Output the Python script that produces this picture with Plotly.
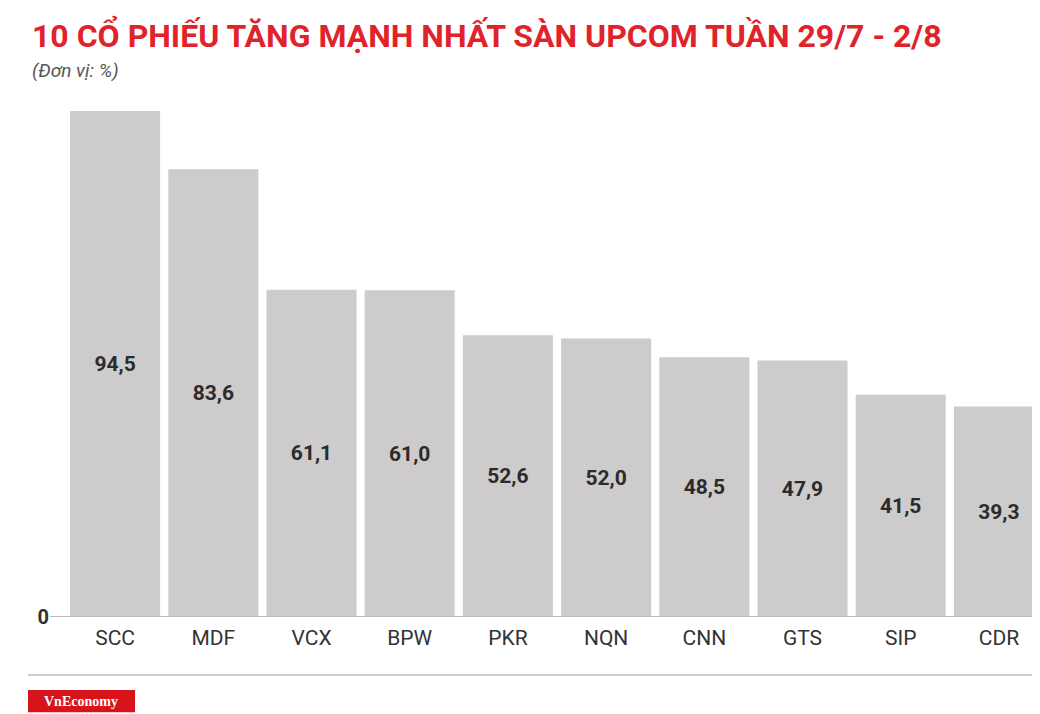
import plotly.graph_objects as go

categories = ["SCC", "MDF", "VCX", "BPW", "PKR", "NQN", "CNN", "GTS", "SIP", "CDR"]
values = [94.5, 83.6, 61.1, 61.0, 52.6, 52.0, 48.5, 47.9, 41.5, 39.3]
labels = [f"{v:.1f}".replace(".", ",") for v in values]

fig = go.Figure(go.Bar(
    x=categories, y=values, text=labels, textposition="inside",
    insidetextanchor="middle", textangle=0,
    textfont=dict(family="Roboto", size=21, color="#2b2b2b", weight="bold"),
    marker=dict(color="#cdcbcc", line=dict(width=0)),
))
fig.update_layout(
    width=1040, height=714, paper_bgcolor="white", plot_bgcolor="white",
    margin=dict(l=58, r=0, t=92, b=105), bargap=0.083, showlegend=False,
    xaxis=dict(showline=False, ticks="", tickfont=dict(family="Roboto", size=21, color="#333"),
               ticklabelstandoff=6),
    yaxis=dict(range=[0, 96.55], showgrid=False, zeroline=False, tickvals=[0], ticktext=["0"],
               tickfont=dict(family="Roboto", size=20, color="#333", weight="bold"),
               ticklabelstandoff=16),
    shapes=[
        dict(type="line", xref="paper", yref="y", x0=-0.0163, x1=1, y0=0, y1=0,
             line=dict(color="#bbbbbb", width=2)),
        dict(type="line", xref="paper", yref="paper", x0=-0.0387, x1=1, y0=-0.112, y1=-0.112,
             line=dict(color="#cccccc", width=2)),
        dict(type="rect", xref="paper", yref="paper", x0=-0.0387, x1=0.0703, y0=-0.184, y1=-0.141,
             fillcolor="#d7141c", line=dict(width=0)),
    ],
    annotations=[
        dict(text="10 CỔ PHIẾU TĂNG MẠNH NHẤT SÀN UPCOM TUẦN 29/7 - 2/8", xref="paper", yref="paper",
             x=-0.0367, y=1.126, xanchor="left", yanchor="middle", showarrow=False,
             font=dict(family="Roboto", size=32, color="#e0232b", weight="bold")),
        dict(text="<i>(Đơn vị: %)</i>", xref="paper", yref="paper",
             x=-0.0367, y=1.058, xanchor="left", yanchor="middle", showarrow=False,
             font=dict(family="Roboto", size=19, color="#555")),
        dict(text="<b>VnEconomy</b>", xref="paper", yref="paper",
             x=0.0153, y=-0.1625, xanchor="center", yanchor="middle", showarrow=False,
             font=dict(family="Liberation Serif", size=14, color="white")),
    ],
)
fig.write_html("out.html")
